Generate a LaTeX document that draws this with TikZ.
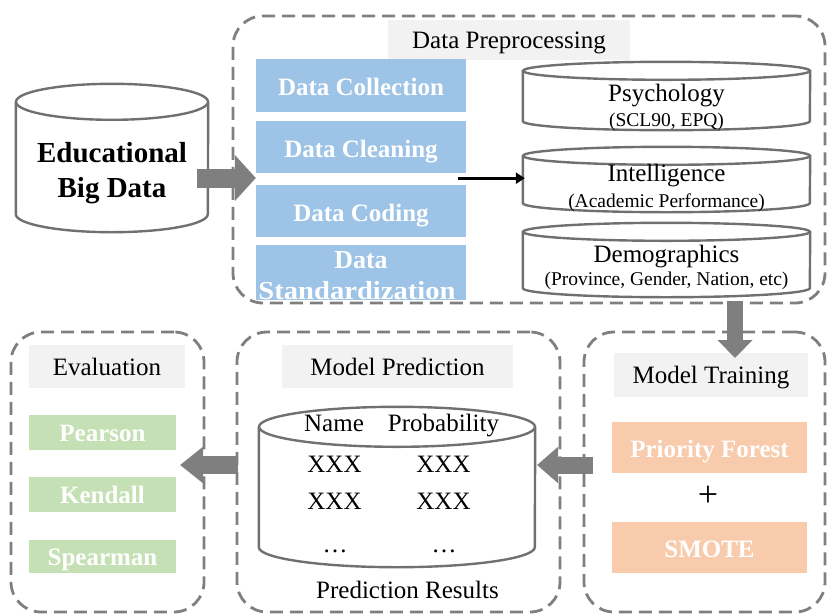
\documentclass[tikz,border=0pt]{standalone}
\usepackage{fontspec}
\setmainfont{Liberation Serif}
\usetikzlibrary{arrows.meta,calc}
\definecolor{dashgray}{HTML}{7F7F7F}
\definecolor{arrgray}{HTML}{7F7F7F}
\definecolor{cylgray}{HTML}{707070}
\definecolor{lblgray}{HTML}{F2F2F2}
\definecolor{boxblue}{HTML}{9DC3E6}
\definecolor{boxgreen}{HTML}{C5E0B4}
\definecolor{boxorange}{HTML}{F8CBAD}
\newcommand{\cylin}[6]{%
  \node[inner sep=0pt, minimum width={2*#4 pt}, minimum height={#5 pt}] (#1) at (#2,#3) {};
  \draw[cylline] ([yshift=-#6 pt]#1.north) ellipse [x radius=#4 pt, y radius=#6 pt];
  \draw[cylline] ([yshift=-#6 pt]#1.north west) -- ([yshift=#6 pt]#1.south west)
     arc[start angle=180, end angle=360, x radius=#4 pt, y radius=#6 pt]
     -- ([yshift=-#6 pt]#1.north east);
}
\tikzset{
  dashbox/.style={draw=dashgray, line width=2.8pt, dash pattern=on 13pt off 7pt, rounded corners=30pt, inner sep=0pt},
  cylline/.style={draw=cylgray, line width=2.4pt},
  lbl/.style={fill=lblgray, inner sep=0pt, text height=17pt, text depth=0pt, font=\fontsize{25}{30}\selectfont},
  bluebox/.style={fill=boxblue, inner sep=0pt, minimum width=210pt, text height=20pt, text depth=0pt, text=white, font=\fontsize{25}{28}\selectfont\bfseries, align=center},
  greenbox/.style={fill=boxgreen, inner sep=0pt, minimum width=147pt, text height=17pt, text depth=0pt, text=white, font=\fontsize{25}{28}\selectfont\bfseries},
  orangebox/.style={fill=boxorange, inner sep=0pt, minimum width=195pt, minimum height=51pt, text height=19pt, text depth=0pt, text=white, font=\fontsize{25}{28}\selectfont\bfseries},
  bigtxt/.style={font=\fontsize{25}{30}\selectfont, inner sep=0pt, anchor=base},
  smalltxt/.style={font=\fontsize{19.5}{24}\selectfont, inner sep=0pt, anchor=base},
  bigarrow/.style={draw=arrgray, line width=#1},
}
\begin{document}
\begin{tikzpicture}[x=1pt,y=-1pt]
\useasboundingbox (0,0) rectangle (827,614);

% dashed group boxes
\node[dashbox, minimum width=592pt, minimum height=287pt] (prep) at (529,159.5) {};
\node[dashbox, minimum width=193pt, minimum height=280pt] (evalbox) at (107.5,472) {};
\node[dashbox, minimum width=323pt, minimum height=280pt] (predbox) at (398.5,472) {};
\node[dashbox, minimum width=241pt, minimum height=280pt] (trainbox) at (704.5,472) {};

% labels
\node[lbl, minimum width=242pt, minimum height=40pt] (preplbl) at (509,40) {Data Preprocessing};
\node[lbl, minimum width=156pt, minimum height=43pt] (evallbl) at (107,366.5) {Evaluation};
\node[lbl, minimum width=231pt, minimum height=43pt] (predlbl) at (397.5,366.5) {Model Prediction};
\node[lbl, minimum width=194pt, minimum height=44pt] (trainlbl) at (711,375) {Model Training};

% educational big data
\cylin{edu}{112}{158}{96}{148}{18}
\node[font=\fontsize{29}{35}\selectfont\bfseries, align=center, inner sep=0pt] (edutxt) at (112,173) {Educational\\Big Data};

% blue steps
\node[bluebox, minimum height=53pt] (coll) at (361,85.5) {Data Collection};
\node[bluebox, minimum height=52pt] (clean) at (361,147) {Data Cleaning};
\node[bluebox, minimum height=52pt] (coding) at (361,211) {Data Coding};
\node[bluebox, minimum height=55pt] (stand) at (361,272.5) {};
\node[font=\fontsize{26}{30}\selectfont\bfseries, text=white, inner sep=0pt] (standa) at (361,260) {Data};
\node[font=\fontsize{26}{30}\selectfont\bfseries, text=white, inner sep=0pt, xscale=1.1] (standb) at (357,291) {Standardization};

% data cylinders
\cylin{psy}{666.5}{96}{143.5}{68}{9}
\node[bigtxt] (psyt) at (666.5,101) {Psychology};
\node[smalltxt] (psys) at (666.5,126) {(SCL90, EPQ)};
\cylin{intl}{666.5}{179.5}{143.5}{65}{9}
\node[bigtxt] (intlt) at (666.5,181) {Intelligence};
\node[smalltxt] (intls) at (666.5,207) {(Academic Performance)};
\cylin{demo}{666.5}{260}{143.5}{74}{9}
\node[bigtxt] (demot) at (666.5,262) {Demographics};
\node[smalltxt] (demos) at (666.5,285) {(Province, Gender, Nation, etc)};

% evaluation boxes
\node[greenbox, minimum height=35pt] (pear) at (102.5,432.5) {Pearson};
\node[greenbox, minimum height=35pt] (kend) at (102.5,494.5) {Kendall};
\node[greenbox, minimum height=33pt] (spear) at (102.5,556.5) {Spearman};

% prediction cylinder
\cylin{res}{397}{487}{138}{160}{20}
\node[bigtxt] (nm) at (334,431) {Name};
\node[bigtxt] (prob) at (443.5,431) {Probability};
\node[bigtxt] (x1) at (334.5,472) {XXX};
\node[bigtxt] (x2) at (443.5,472) {XXX};
\node[bigtxt] (x3) at (334.5,509) {XXX};
\node[bigtxt] (x4) at (443.5,509) {XXX};
\node[bigtxt] (d1) at (335,552) {\dots};
\node[bigtxt] (d2) at (444,552) {\dots};
\node[bigtxt] (predres) at (407.5,598) {Prediction Results};

% training boxes
\node[orangebox] (pf) at (709.5,447.5) {Priority Forest};
\node[font=\fontsize{36}{40}\selectfont, inner sep=0pt] (plus) at (708,496) {+};
\node[orangebox] (smote) at (709.5,547.5) {SMOTE};

% arrows
\coordinate (a1s) at ([xshift=-11pt,yshift=-20pt]edu.east);
\coordinate (a1e) at (a1s -| coll.west);
\draw[bigarrow=19pt, -{Triangle[length=21pt,width=45pt]}] (a1s) -- (a1e);

\coordinate (bs) at (clean.south east);
\coordinate (b1) at ([xshift=-8pt,yshift=-5pt]bs);
\coordinate (b2) at (b1 -| intl.west);
\draw[line width=2.8pt, -{Triangle[length=9pt,width=11pt]}] (b1) -- ([xshift=2pt]b2);

\coordinate (c1) at (735,301);
\coordinate (c2) at (735,358);
\draw[bigarrow=16pt, -{Triangle[length=18pt,width=34pt]}] (c1) -- (c2);

\coordinate (e1) at (593,465);
\coordinate (e2) at (537,465);
\draw[bigarrow=17pt, -{Triangle[length=21pt,width=35pt]}] (e1) -- (e2);

\coordinate (f1) at (238,465);
\coordinate (f2) at (180,465);
\draw[bigarrow=18pt, -{Triangle[length=23pt,width=35pt]}] (f1) -- (f2);
\end{tikzpicture}
\end{document}
